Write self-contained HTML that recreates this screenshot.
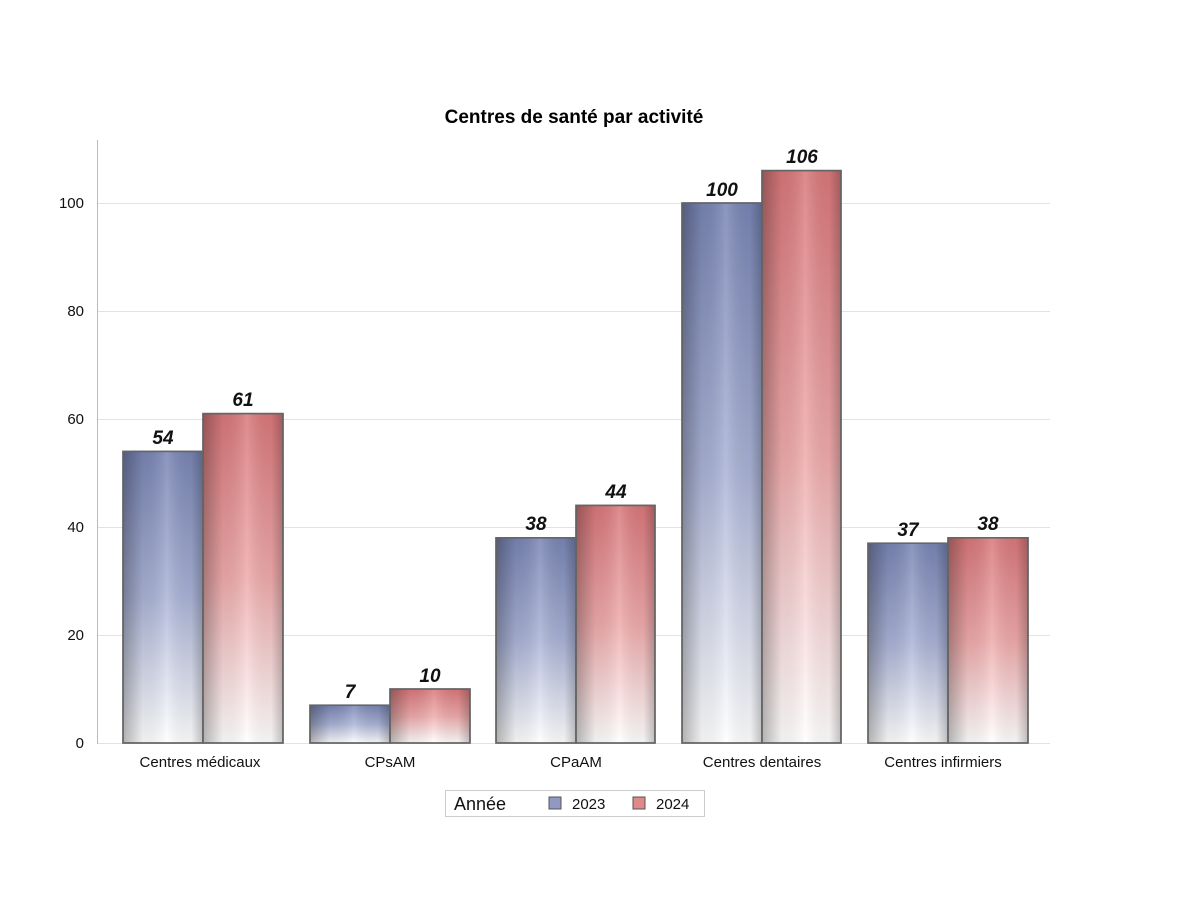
<!DOCTYPE html>
<html><head><meta charset="utf-8"><style>body{margin:0;background:#fff}</style></head><body>
<svg width="1200" height="893" xmlns="http://www.w3.org/2000/svg" font-family="Liberation Sans, sans-serif">
<defs>
<linearGradient id="gb" x1="0" y1="0" x2="0" y2="1"><stop offset="0" stop-color="#7884b3"/><stop offset="0.5" stop-color="#aab3d6"/><stop offset="1" stop-color="#ffffff"/></linearGradient>
<linearGradient id="gr" x1="0" y1="0" x2="0" y2="1"><stop offset="0" stop-color="#d8777a"/><stop offset="0.5" stop-color="#eeaaab"/><stop offset="1" stop-color="#ffffff"/></linearGradient>
<linearGradient id="sh" x1="0" y1="0" x2="1" y2="0"><stop offset="0" stop-color="#000" stop-opacity="0.3"/><stop offset="0.25" stop-color="#000" stop-opacity="0.06"/><stop offset="0.55" stop-color="#fff" stop-opacity="0.15"/><stop offset="0.85" stop-color="#000" stop-opacity="0.05"/><stop offset="1" stop-color="#000" stop-opacity="0.25"/></linearGradient>
</defs>
<text x="574" y="123" text-anchor="middle" font-size="19" font-weight="bold">Centres de santé par activité</text>
<g stroke="#e2e2e2" stroke-width="1">
<line x1="97" y1="203.5" x2="1050" y2="203.5"/><line x1="97" y1="311.5" x2="1050" y2="311.5"/><line x1="97" y1="419.5" x2="1050" y2="419.5"/><line x1="97" y1="527.5" x2="1050" y2="527.5"/><line x1="97" y1="635.5" x2="1050" y2="635.5"/><line x1="97" y1="743.5" x2="1050" y2="743.5"/>
</g>
<line x1="97.5" y1="140" x2="97.5" y2="744" stroke="#bbb"/>
<g font-size="15" text-anchor="end" fill="#111">
<text x="84" y="748">0</text><text x="84" y="640">20</text><text x="84" y="532">40</text><text x="84" y="424">60</text><text x="84" y="316">80</text><text x="84" y="208">100</text>
</g>
<g stroke="#666" stroke-width="1.5">
<rect x="123" y="451.4" width="80" height="291.6" fill="url(#gb)"/><rect x="123" y="451.4" width="80" height="291.6" fill="url(#sh)"/>
<rect x="203" y="413.6" width="80" height="329.4" fill="url(#gr)"/><rect x="203" y="413.6" width="80" height="329.4" fill="url(#sh)"/>
<rect x="310" y="705.2" width="80" height="37.8" fill="url(#gb)"/><rect x="310" y="705.2" width="80" height="37.8" fill="url(#sh)"/>
<rect x="390" y="689" width="80" height="54" fill="url(#gr)"/><rect x="390" y="689" width="80" height="54" fill="url(#sh)"/>
<rect x="496" y="537.8" width="80" height="205.2" fill="url(#gb)"/><rect x="496" y="537.8" width="80" height="205.2" fill="url(#sh)"/>
<rect x="576" y="505.4" width="79" height="237.6" fill="url(#gr)"/><rect x="576" y="505.4" width="79" height="237.6" fill="url(#sh)"/>
<rect x="682" y="203" width="80" height="540" fill="url(#gb)"/><rect x="682" y="203" width="80" height="540" fill="url(#sh)"/>
<rect x="762" y="170.6" width="79" height="572.4" fill="url(#gr)"/><rect x="762" y="170.6" width="79" height="572.4" fill="url(#sh)"/>
<rect x="868" y="543.2" width="80" height="199.8" fill="url(#gb)"/><rect x="868" y="543.2" width="80" height="199.8" fill="url(#sh)"/>
<rect x="948" y="537.8" width="80" height="205.2" fill="url(#gr)"/><rect x="948" y="537.8" width="80" height="205.2" fill="url(#sh)"/>
</g>
<g font-size="19" font-weight="bold" font-style="italic" text-anchor="middle" fill="#111">
<text x="163" y="444">54</text><text x="243" y="406">61</text>
<text x="350" y="698">7</text><text x="430" y="682">10</text>
<text x="536" y="530">38</text><text x="616" y="498">44</text>
<text x="722" y="196">100</text><text x="802" y="163">106</text>
<text x="908" y="536">37</text><text x="988" y="530">38</text>
</g>
<g font-size="15" text-anchor="middle" fill="#111">
<text x="200" y="767">Centres médicaux</text><text x="390" y="767">CPsAM</text><text x="576" y="767">CPaAM</text><text x="762" y="767">Centres dentaires</text><text x="943" y="767">Centres infirmiers</text>
</g>
<rect x="445.5" y="790.5" width="259" height="26" fill="#fff" stroke="#ccc"/>
<text x="454" y="810" font-size="18" fill="#111">Année</text>
<rect x="549" y="797" width="12" height="12" fill="#8f99c2" stroke="#555"/>
<text x="572" y="809" font-size="15" fill="#111">2023</text>
<rect x="633" y="797" width="12" height="12" fill="#e0898b" stroke="#555"/>
<text x="656" y="809" font-size="15" fill="#111">2024</text>
</svg>
</body></html>
